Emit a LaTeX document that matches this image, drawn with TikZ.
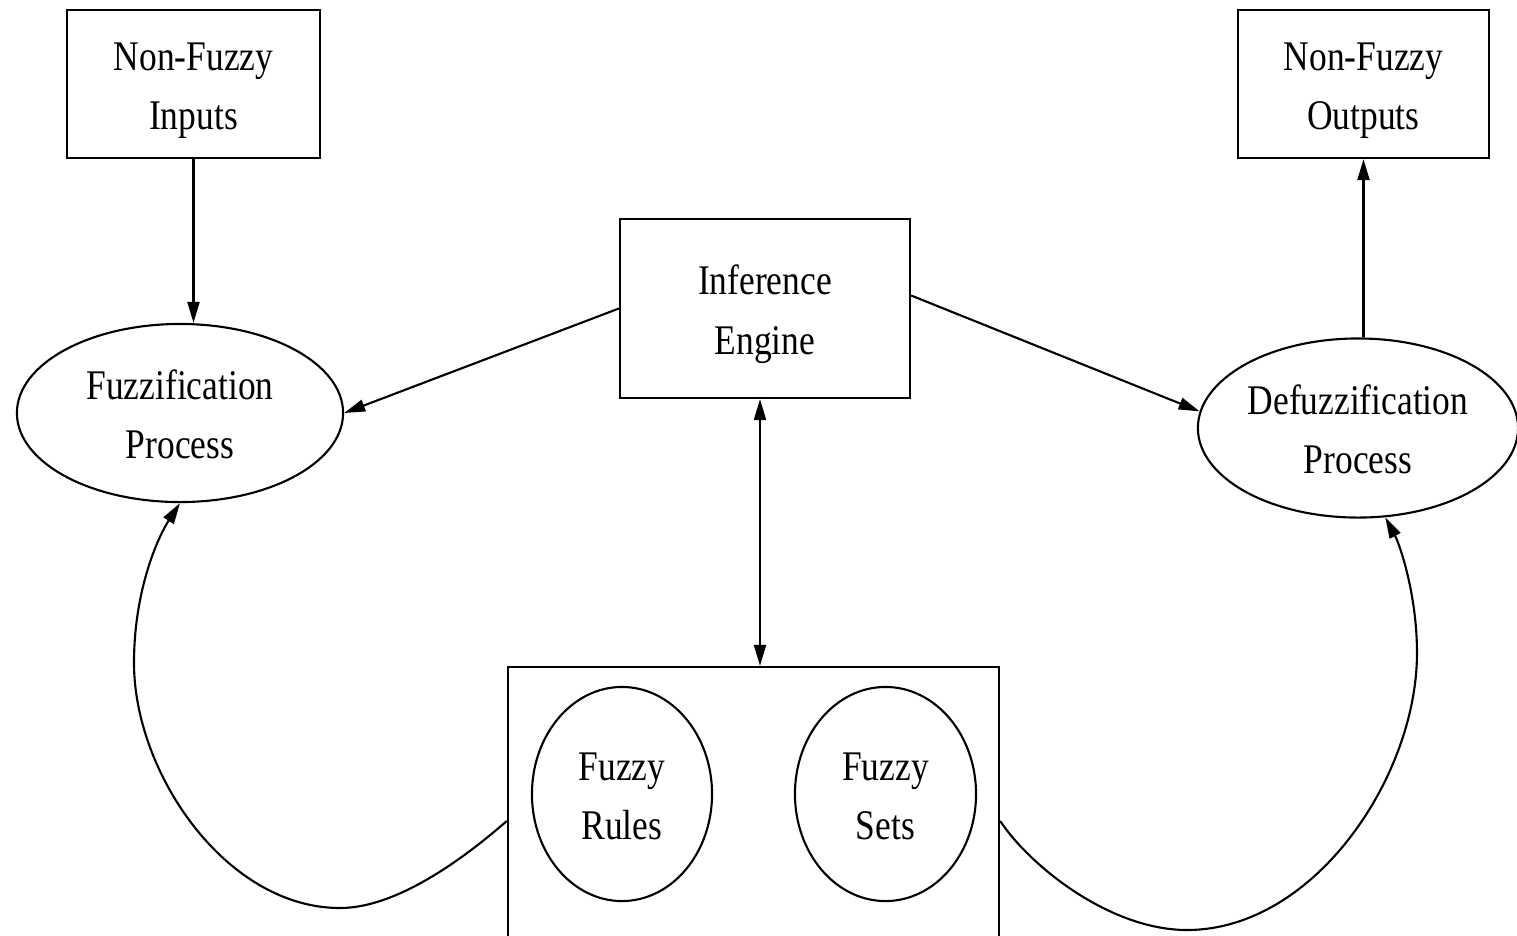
\documentclass[tikz,border=0pt]{standalone}
\usepackage{fontspec}
\setmainfont{Liberation Serif}
\usepackage{graphicx}
\usetikzlibrary{arrows.meta,shapes.geometric}
\newcommand{\lbl}[2]{\raisebox{-0.04cm}[\height][\depth]{\scalebox{0.84}[1]{\begin{tabular}{@{}c@{}}#1\\#2\end{tabular}}}}
\tikzset{
  base/.style={draw=black,line width=0.6pt,inner sep=0pt,font=\fontsize{12}{17}\selectfont},
  boxnode/.style={base,rectangle},
  ovalnode/.style={base,ellipse},
  arr/.style={line width=0.6pt,-{Triangle[length=0.21cm,width=0.12cm]}},
  darr/.style={line width=0.6pt,{Triangle[length=0.21cm,width=0.12cm]}-{Triangle[length=0.21cm,width=0.12cm]}}
}
\begin{document}
\begin{tikzpicture}[x=0.01cm,y=0.01cm]
\useasboundingbox (0,0) rectangle (1517,-935);
\node[boxnode,minimum width=2.53cm,minimum height=1.48cm] (in) at (193.5,-84) {\lbl{Non-Fuzzy}{Inputs}};
\node[boxnode,minimum width=2.51cm,minimum height=1.48cm] (out) at (1363.5,-84) {\lbl{Non-Fuzzy}{Outputs}};
\node[boxnode,minimum width=2.90cm,minimum height=1.79cm] (inf) at (765,-308.5) {\lbl{Inference}{Engine}};
\node[ovalnode,minimum width=3.26cm,minimum height=1.78cm] (fuzz) at (180,-413) {\lbl{Fuzzification}{Process}};
\node[ovalnode,minimum width=3.20cm,minimum height=1.79cm] (defuzz) at (1358,-428) {\lbl{Defuzzification}{Process}};
\node[boxnode,minimum width=4.91cm,minimum height=3.08cm] (bot) at (753.5,-821) {};
\node[ovalnode,minimum width=1.80cm,minimum height=2.14cm] (rules) at (622,-794) {\lbl{Fuzzy}{Rules}};
\node[ovalnode,minimum width=1.81cm,minimum height=2.14cm] (sets) at (885.5,-794) {\lbl{Fuzzy}{Sets}};

\draw[arr] (in.south) -- (in.south |- fuzz.north);
\draw[arr] (inf.west) -- (fuzz.east);
\draw[arr] ([yshift=0.13cm]inf.east) -- (defuzz.174);
\draw[arr] (defuzz.north -| out.south) -- (out.south);
\draw[darr] ([xshift=-0.05cm]inf.south) -- ([xshift=-0.05cm]inf.south |- bot.north);

\draw[arr] (bot.west) .. controls (470,-853) and (400,-908) .. (340,-908)
  .. controls (226,-908) and (134,-773) .. (134,-663)
  .. controls (134,-590) and (158,-537) .. (fuzz.south);
\draw[arr] (bot.east) .. controls (1030,-866) and (1110,-930) .. (1187,-930)
  .. controls (1314,-930) and (1417,-777) .. (1417,-653)
  .. controls (1417,-595) and (1400,-545) .. (defuzz.-73);
\end{tikzpicture}
\end{document}
